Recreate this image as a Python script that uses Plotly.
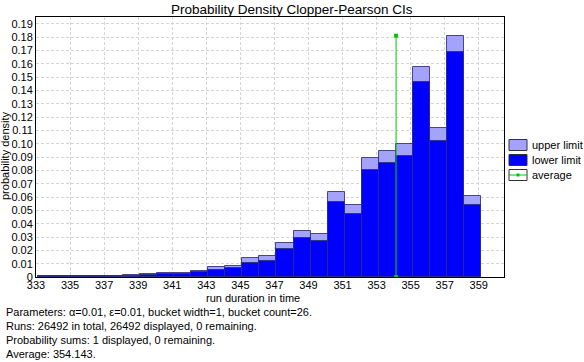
import plotly.graph_objects as go

# ---- data ----
bucket_start = [333.12, 334.12, 335.12, 336.12, 337.12, 338.12, 339.12, 340.12, 341.12,
                342.12, 343.12, 344.12, 345.12, 346.12, 347.12, 348.12, 349.12, 350.12,
                351.12, 352.12, 353.12, 354.12, 355.12, 356.12, 357.12, 358.12]
lower_limit = [0.0006, 0.0005, 0.0006, 0.0006, 0.0006, 0.0010, 0.0012, 0.0020, 0.0020,
               0.0035, 0.0055, 0.0065, 0.0107, 0.0122, 0.0212, 0.0295, 0.0272, 0.0563,
               0.0472, 0.0803, 0.0855, 0.0908, 0.1463, 0.1020, 0.1688, 0.0540]
upper_limit = [0.0010, 0.0008, 0.0010, 0.0010, 0.0010, 0.0017, 0.0025, 0.0032, 0.0032,
               0.0045, 0.0077, 0.0085, 0.0145, 0.0160, 0.0255, 0.0347, 0.0322, 0.0638,
               0.0540, 0.0893, 0.0945, 0.0998, 0.1575, 0.1118, 0.1810, 0.0605]
average_x = [354.143, 354.143]
average_y = [0.0, 0.181]

x_tickvals = [333, 335, 337, 339, 341, 343, 345, 347, 349, 351, 353, 355, 357, 359]
y_tickvals = [0, 0.01, 0.02, 0.03, 0.04, 0.05, 0.06, 0.07, 0.08, 0.09, 0.10,
              0.11, 0.12, 0.13, 0.14, 0.15, 0.16, 0.17, 0.18, 0.19]
y_ticktext = ["0", "0.01", "0.02", "0.03", "0.04", "0.05", "0.06", "0.07", "0.08", "0.09",
              "0.10", "0.11", "0.12", "0.13", "0.14", "0.15", "0.16", "0.17", "0.18", "0.19"]

info_lines = [
    "Parameters: α=0.01, ε=0.01, bucket width=1, bucket count=26.",
    "Runs: 26492 in total, 26492 displayed, 0 remaining.",
    "Probability sums: 1 displayed, 0 remaining.",
    "Average: 354.143.",
]

# ---- layout geometry ----
W, H = 584, 362
L, R, T, B = 36, 80, 17, 85
PW, PH = W - L - R, H - T - B
FONT = "Liberation Sans, Arial, sans-serif"
LIGHT = "#a3a3fb"
BLUE = "#0000ff"
OUTLINE = "rgba(45,45,125,0.85)"
GREEN = "#00c800"


def px(x):
    return (x - L) / PW


def py(y):
    return (H - B - y) / PH


fig = go.Figure()
fig.add_trace(go.Bar(x=bucket_start, y=upper_limit, width=1, offset=0,
                     marker=dict(color=LIGHT, line=dict(color=OUTLINE, width=1)),
                     name="upper limit", showlegend=False))
fig.add_trace(go.Bar(x=bucket_start, y=lower_limit, width=1, offset=0,
                     marker=dict(color=BLUE, line=dict(color=OUTLINE, width=1)),
                     name="lower limit", showlegend=False))
fig.add_trace(go.Scatter(x=average_x, y=average_y, mode="lines+markers",
                         line=dict(color=GREEN, width=1),
                         marker=dict(symbol="square", size=4, color=GREEN),
                         name="average", showlegend=False))

shapes = []
annotations = []

# legend
leg_rows = [("upper limit", 145), ("lower limit", 160), ("average", 175)]
for i, (label, yc) in enumerate(leg_rows):
    fill = [LIGHT, BLUE, "white"][i]
    shapes.append(dict(type="rect", xref="paper", yref="paper",
                       x0=px(509), x1=px(527), y0=py(yc - 5.5), y1=py(yc + 5.5),
                       fillcolor=fill, line=dict(color="#333333", width=1)))
    annotations.append(dict(text=label, xref="paper", yref="paper", x=px(530), y=py(yc),
                            xanchor="left", yanchor="middle", showarrow=False,
                            font=dict(family=FONT, size=11, color="black")))
shapes.append(dict(type="line", xref="paper", yref="paper",
                   x0=px(509), x1=px(527), y0=py(175), y1=py(175),
                   line=dict(color=GREEN, width=1)))
shapes.append(dict(type="rect", xref="paper", yref="paper",
                   x0=px(516.5), x1=px(519.5), y0=py(173.5), y1=py(176.5),
                   fillcolor=GREEN, line=dict(width=0)))

# axis titles
annotations.append(dict(text="run duration in time", xref="paper", yref="paper",
                        x=px(252.5), y=py(298), xanchor="center", yanchor="middle",
                        showarrow=False, font=dict(family=FONT, size=11, color="black")))
annotations.append(dict(text="probability density", xref="paper", yref="paper",
                        x=px(5), y=py(156), xanchor="center", yanchor="middle",
                        textangle=-90, showarrow=False,
                        font=dict(family=FONT, size=11, color="black")))
# title
annotations.append(dict(text="Probability Density Clopper-Pearson CIs", xref="paper", yref="paper",
                        x=px(292), y=py(9), xanchor="center", yanchor="middle",
                        showarrow=False, font=dict(family=FONT, size=13.5, color="black")))
# info lines
for i, line in enumerate(info_lines):
    annotations.append(dict(text=line, xref="paper", yref="paper",
                            x=px(4), y=py(312 + 14 * i), xanchor="left", yanchor="middle",
                            showarrow=False, font=dict(family=FONT, size=11, color="black")))

fig.update_layout(
    width=W, height=H,
    margin=dict(l=L, r=R, t=T, b=B, pad=0),
    paper_bgcolor="white", plot_bgcolor="white",
    barmode="overlay", bargap=0,
    showlegend=False,
    font=dict(family=FONT, size=11, color="black"),
    shapes=shapes, annotations=annotations,
    xaxis=dict(range=[333, 360.48], tickvals=x_tickvals, showgrid=True,
               gridcolor="#d4d4d4", griddash="3px,2px", gridwidth=1,
               showline=True, linecolor="black", linewidth=1, mirror=True,
               ticks="", zeroline=False, ticklabelstandoff=-2,
               tickfont=dict(family=FONT, size=11, color="black")),
    yaxis=dict(range=[0, 0.195], tickvals=y_tickvals, ticktext=y_ticktext, showgrid=True,
               gridcolor="#d4d4d4", griddash="3px,2px", gridwidth=1,
               showline=True, linecolor="black", linewidth=1, mirror=True,
               ticks="", zeroline=False,
               tickfont=dict(family=FONT, size=11, color="black")),
)

fig.write_html("out.html", config={"displayModeBar": False},
               post_script="document.body.style.margin='0';document.body.style.padding='0';"
                           "document.documentElement.style.overflow='hidden';")
